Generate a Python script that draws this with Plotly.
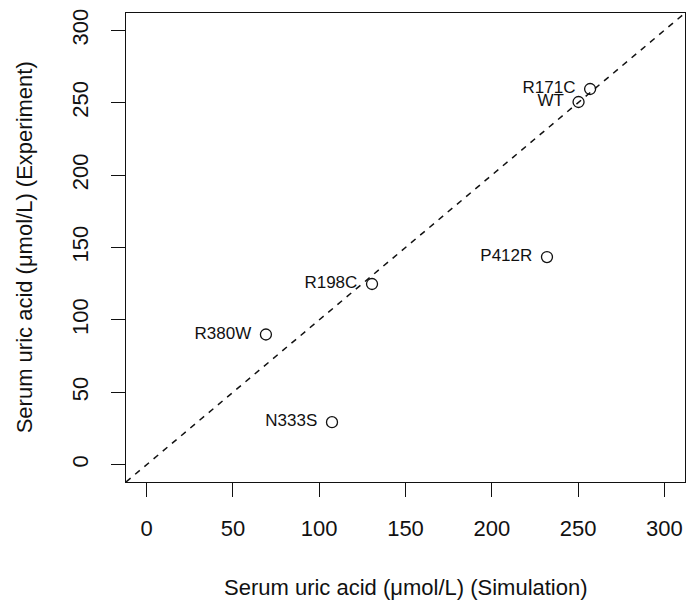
import plotly.graph_objects as go

labels = ["R171C", "WT", "P412R", "R198C", "R380W", "N333S"]
simulation = [257.0, 250.3, 232.0, 130.6, 69.1, 107.4]
experiment = [259.5, 250.5, 143.4, 124.8, 89.9, 29.3]
ticks = [0, 50, 100, 150, 200, 250, 300]
lim = [-12, 312]

FONT = "Liberation Sans, Arial, sans-serif"

fig = go.Figure()
fig.add_trace(go.Scatter(
    x=simulation, y=experiment, mode="markers+text",
    text=[lab + "\u2009\u2009" for lab in labels], textposition="middle left",
    textfont=dict(family=FONT, size=17, color="#111"),
    marker=dict(symbol="circle-open", size=11, color="#111", line=dict(width=1.3)),
    showlegend=False, cliponaxis=False,
))
fig.add_shape(type="line", xref="x", yref="y", x0=lim[0], y0=lim[0], x1=lim[1], y1=lim[1],
              line=dict(color="#111", width=1.5, dash="6px,6px"))

axis_common = dict(
    range=lim, tickvals=ticks, ticks="outside", ticklen=14, tickwidth=1.3, tickcolor="#111",
    showgrid=False, zeroline=False, showline=True, linecolor="#111", linewidth=1.3, mirror=True,
    tickfont=dict(family=FONT, size=22, color="#111"),
)
fig.update_xaxes(**axis_common, ticklabelstandoff=12)
fig.update_yaxes(**axis_common, tickangle=-90, ticklabelstandoff=14)

fig.add_annotation(text="Serum uric acid (μmol/L) (Simulation)", xref="paper", yref="paper",
                   x=0.5, y=-0.224, xanchor="center", yanchor="middle", showarrow=False,
                   font=dict(family=FONT, size=22, color="#111"))
fig.add_annotation(text="Serum uric acid (μmol/L) (Experiment)", xref="paper", yref="paper",
                   x=-0.181, y=0.5, xanchor="center", yanchor="middle", showarrow=False, textangle=-90,
                   font=dict(family=FONT, size=22, color="#111"))

fig.update_layout(
    width=687, height=600, margin=dict(l=126, r=2, t=13, b=118),
    plot_bgcolor="white", paper_bgcolor="white",
)
fig.write_html("out.html", config={"displayModeBar": False},
               post_script="document.body.style.margin='0';document.body.style.overflow='hidden';")
